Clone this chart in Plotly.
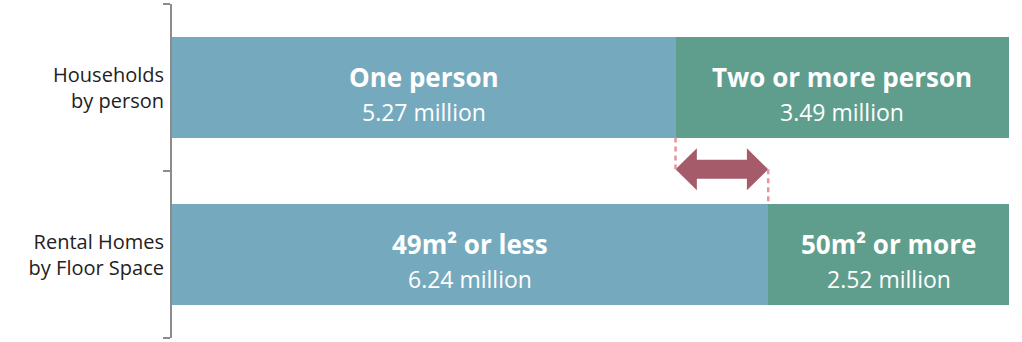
import plotly.graph_objects as go

# Row labels (bottom to top on the category axis)
rows = ["Rental Homes<br>by Floor Space", "Households<br>by person"]

# First segment of each bar (blue) and second segment (green), in millions
first_names = ["49m² or less", "One person"]
first_values = [6.24, 5.27]
second_names = ["50m² or more", "Two or more person"]
second_values = [2.52, 3.49]

BLUE = "#75AABE"
GREEN = "#5F9E8C"
ARROW = "#A55B69"
DASH = "#E8939C"
FONT = "Open Sans"

fig = go.Figure()
fig.add_trace(go.Bar(y=rows, x=first_values, orientation="h",
                     marker=dict(color=BLUE, line=dict(width=0)), hoverinfo="skip"))
fig.add_trace(go.Bar(y=rows, x=second_values, orientation="h",
                     marker=dict(color=GREEN, line=dict(width=0)), hoverinfo="skip"))

# Segment labels: bold name with the value underneath
for i in range(len(rows)):
    a, b = first_values[i], second_values[i]
    for name, val, mid in ((first_names[i], a, a / 2), (second_names[i], b, a + b / 2)):
        fig.add_annotation(x=mid, y=i, text=f"<b>{name}</b>", showarrow=False,
                           yshift=11, font=dict(family=FONT, size=26, color="white"))
        fig.add_annotation(x=mid, y=i, text=f"{val:.2f} million", showarrow=False,
                           yshift=-24, font=dict(family=FONT, size=23, color="white"))

# Double-headed arrow between the two split points
x0, x1 = first_values[1], first_values[0]
yc = 0.51
head_h = 0.126
shaft_h = 0.057
head_len = (x1 - x0) * 0.23
path = (f"M {x0},{yc} L {x0 + head_len},{yc + head_h} L {x0 + head_len},{yc + shaft_h} "
        f"L {x1 - head_len},{yc + shaft_h} L {x1 - head_len},{yc + head_h} L {x1},{yc} "
        f"L {x1 - head_len},{yc - head_h} L {x1 - head_len},{yc - shaft_h} "
        f"L {x0 + head_len},{yc - shaft_h} L {x0 + head_len},{yc - head_h} Z")
fig.add_shape(type="path", path=path, xref="x", yref="y",
              fillcolor=ARROW, line=dict(width=0))

# Dashed guides from each split point to the arrow tips
fig.add_shape(type="line", xref="x", yref="y", x0=x0, x1=x0, y0=0.7, y1=yc,
              line=dict(color=DASH, width=2.5, dash="5px,4px"))
fig.add_shape(type="line", xref="x", yref="y", x0=x1, x1=x1, y0=yc, y1=0.3,
              line=dict(color=DASH, width=2.5, dash="5px,4px"))

fig.update_layout(
    barmode="stack",
    bargap=0.4,
    showlegend=False,
    width=1022, height=342,
    margin=dict(l=172, r=13, t=4, b=4),
    paper_bgcolor="white",
    plot_bgcolor="white",
    xaxis=dict(range=[0, first_values[0] + second_values[0]], visible=False,
               fixedrange=True),
    yaxis=dict(type="category", categoryarray=rows, range=[-0.5, 1.5],
               tickson="boundaries", ticks="outside", ticklen=7, tickwidth=2,
               tickcolor="#8C8C8C", showline=True, linecolor="#8C8C8C", linewidth=2,
               showgrid=False, ticklabelstandoff=2,
               tickfont=dict(family=FONT, size=20, color="#222222")),
)

fig.write_html("out.html")
